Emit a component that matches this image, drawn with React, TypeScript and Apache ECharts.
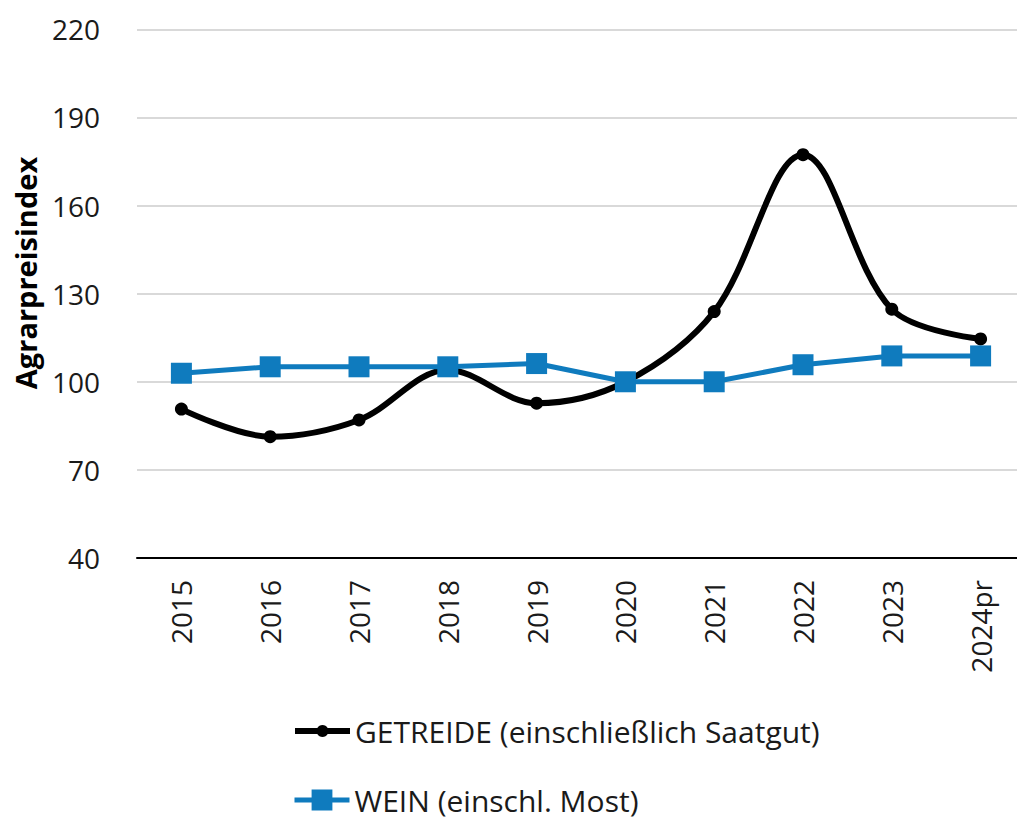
import React, { useEffect, useRef } from "react";
import * as echarts from "echarts";

const categories = ["2015", "2016", "2017", "2018", "2019", "2020", "2021", "2022", "2023", "2024pr"];
const getreide = [90.7, 81.3, 87, 104, 92.7, 100, 123.9, 177.3, 124.7, 114.6];
const wein = [102.9, 105.1, 105.1, 105.1, 106.2, 100, 100, 105.8, 108.8, 108.8];
const yTicks = { min: 40, max: 220, interval: 30 };
const seriesNames = ["GETREIDE (einschließlich Saatgut)", "WEIN (einschl. Most)"];
const yAxisTitle = "Agrarpreisindex";

const FONT = "'Open Sans', 'Noto Sans', sans-serif";
const BLACK = "#000000";
const BLUE = "#0F7BBE";

export default function App() {
  const ref = useRef<HTMLDivElement>(null);
  useEffect(() => {
    if (!ref.current) return;
    const chart = echarts.init(ref.current, null, { renderer: "svg" });
    const legendText = { fontSize: 30, color: "#1a1a1a", fontFamily: FONT };
    chart.setOption({
      animation: false,
      backgroundColor: "#ffffff",
      grid: {
        left: 137,
        top: 29.3,
        width: 888,
        height: 528.7,
        containLabel: false,
        outerBoundsMode: "none",
      },
      xAxis: {
        type: "category",
        data: categories,
        boundaryGap: true,
        axisLine: { show: true, lineStyle: { color: "#000000", width: 2 } },
        axisTick: { show: false },
        axisLabel: { rotate: 90, margin: 22, fontSize: 28, color: "#1a1a1a", fontFamily: FONT },
      },
      yAxis: {
        type: "value",
        min: yTicks.min,
        max: yTicks.max,
        interval: yTicks.interval,
        axisLine: { show: false },
        axisTick: { show: false },
        axisLabel: { margin: 37, fontSize: 28, color: "#1a1a1a", fontFamily: FONT },
        splitLine: { show: true, lineStyle: { color: "#d9d9d9", width: 2 } },
      },
      legend: [
        {
          orient: "vertical",
          left: 292,
          top: 716,
          padding: 0,
          itemWidth: 55,
          itemHeight: 15,
          textStyle: legendText,
          data: [{ name: seriesNames[0], lineStyle: { width: 6, color: BLACK } }],
        },
        {
          orient: "vertical",
          left: 292,
          top: 785,
          padding: 0,
          itemWidth: 55,
          itemHeight: 26,
          textStyle: legendText,
          data: [{ name: seriesNames[1], lineStyle: { width: 5, color: BLUE } }],
        },
      ],
      graphic: [
        {
          type: "text",
          x: 25,
          y: 273,
          rotation: Math.PI / 2,
          style: {
            text: yAxisTitle,
            fontSize: 29,
            fontWeight: "bold",
            fontFamily: FONT,
            fill: "#000000",
            textAlign: "center",
            textVerticalAlign: "middle",
          },
        },
      ],
      series: [
        {
          name: seriesNames[0],
          type: "line",
          data: getreide,
          smooth: 0.35,
          symbol: "circle",
          symbolSize: 13,
          lineStyle: { color: BLACK, width: 6 },
          itemStyle: { color: BLACK },
          z: 2,
        },
        {
          name: seriesNames[1],
          type: "line",
          data: wein,
          symbol: "rect",
          symbolSize: 21,
          lineStyle: { color: BLUE, width: 5 },
          itemStyle: { color: BLUE },
          z: 3,
        },
      ],
    });
    return () => chart.dispose();
  }, []);
  return (
    <div
      ref={ref}
      style={{ position: "absolute", left: 0, top: 0, width: 1017, height: 822 }}
    />
  );
}
